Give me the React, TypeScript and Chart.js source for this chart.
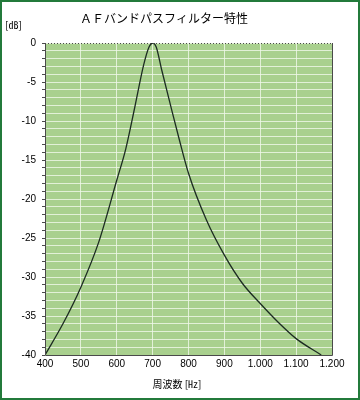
import React, { useEffect, useRef } from "react";
import { Chart, registerables } from "chart.js";

Chart.register(...registerables);

const titleText = "ＡＦバンドパスフィルター特性";
const yUnit = "[㏈]";
const xTitle = "周波数 [㎐]";

const freqHz = [400, 450, 500, 550, 600, 625, 650, 675, 690, 700, 710, 725, 750, 775, 800, 850, 900, 950, 1000, 1050, 1100, 1170];
const gainDb = [-40, -36, -31.3, -25.5, -17.6, -13.6, -8.3, -2.8, -0.5, 0, -0.5, -3.4, -8.0, -12.5, -16.7, -22.7, -27.2, -30.8, -33.4, -35.8, -37.9, -40];

const xMin = 400, xMax = 1200, xStep = 100;
const yMin = -40, yMax = 0, yStep = 1, yLabelStep = 5;

function fmtHz(v: number): string {
  if (v >= 1000) return `${Math.floor(v / 1000)}.${String(v % 1000).padStart(3, "0")}`;
  return String(v);
}

export default function App() {
  const ref = useRef<HTMLCanvasElement | null>(null);
  useEffect(() => {
    document.body.style.margin = "0";
    const ctx = ref.current!;
    const decor = {
      id: "decor",
      beforeDraw(chart: any) {
        const { ctx, chartArea: a } = chart;
        ctx.save();
        ctx.fillStyle = "#a9d08e";
        ctx.fillRect(a.left, a.top, a.right - a.left, a.bottom - a.top);
        ctx.restore();
      },
      afterDraw(chart: any) {
        const { ctx, chartArea: a } = chart;
        ctx.save();
        ctx.strokeStyle = "#4a4a4a";
        ctx.lineWidth = 1;
        ctx.beginPath();
        ctx.moveTo(a.left + 0.5, a.top);
        ctx.lineTo(a.left + 0.5, a.bottom + 0.5);
        ctx.lineTo(a.right + 0.5, a.bottom + 0.5);
        ctx.lineTo(a.right + 0.5, a.top);
        ctx.stroke();
        ctx.setLineDash([1, 2]);
        ctx.beginPath();
        ctx.moveTo(a.left, a.top + 0.5);
        ctx.lineTo(a.right, a.top + 0.5);
        ctx.stroke();
        ctx.setLineDash([]);
        ctx.fillStyle = "#000";
        ctx.textAlign = "center";
        ctx.textBaseline = "middle";
        ctx.font = "12px 'Noto Sans CJK JP'";
        ctx.fillText(titleText, 162, 16);
        ctx.font = "10px 'Noto Sans CJK JP'";
        ctx.textAlign = "left";
        ctx.fillText(yUnit, 3, 23);
        ctx.textAlign = "center";
        ctx.fillText(xTitle, 175, 382);
        ctx.restore();
      },
    };
    const chart = new Chart(ctx, {
      type: "line",
      data: {
        datasets: [
          {
            data: freqHz.map((f, i) => ({ x: f, y: gainDb[i] })),
            borderColor: "#1c2b22",
            borderWidth: 1.3,
            pointRadius: 0,
            cubicInterpolationMode: "monotone",
            clip: 0,
          } as any,
        ],
      },
      options: {
        responsive: false,
        animation: false,
        layout: { padding: { top: 41, right: 26, left: 0, bottom: 0 } },
        plugins: { legend: { display: false }, tooltip: { enabled: false }, title: { display: false } },
        scales: {
          x: {
            type: "linear",
            min: xMin,
            max: xMax,
            afterFit: (s: any) => { s.height = 43; },
            ticks: {
              stepSize: xStep,
              callback: (v: any) => fmtHz(Number(v)),
              color: "#000",
              font: { family: "'Liberation Sans', Arial", size: 10 },
              padding: 3,
              maxRotation: 0,
              autoSkip: false,
            },
            grid: { color: "rgba(240,248,234,0.8)", lineWidth: 1, tickLength: 0 },
            border: { display: false },
          },
          y: {
            type: "linear",
            min: yMin,
            max: yMax,
            afterFit: (s: any) => { s.width = 43; },
            ticks: {
              stepSize: yStep,
              callback: (v: any) => (Number(v) % yLabelStep === 0 ? String(v) : ""),
              color: "#000",
              font: { family: "'Liberation Sans', Arial", size: 10 },
              padding: 6,
              autoSkip: false,
            },
            grid: {
              color: "rgba(240,248,234,0.8)",
              lineWidth: 1,
              tickLength: 3,
              tickColor: "#4a4a4a",
            } as any,
            border: { display: false },
          },
        },
      },
      plugins: [decor],
    } as any);
    return () => chart.destroy();
  }, []);
  return (
    <div style={{ width: 360, height: 400, boxSizing: "border-box", border: "2px solid #237a3b", position: "relative", background: "#fff" }}>
      <canvas ref={ref} width={356} height={396} style={{ display: "block" }} />
    </div>
  );
}
